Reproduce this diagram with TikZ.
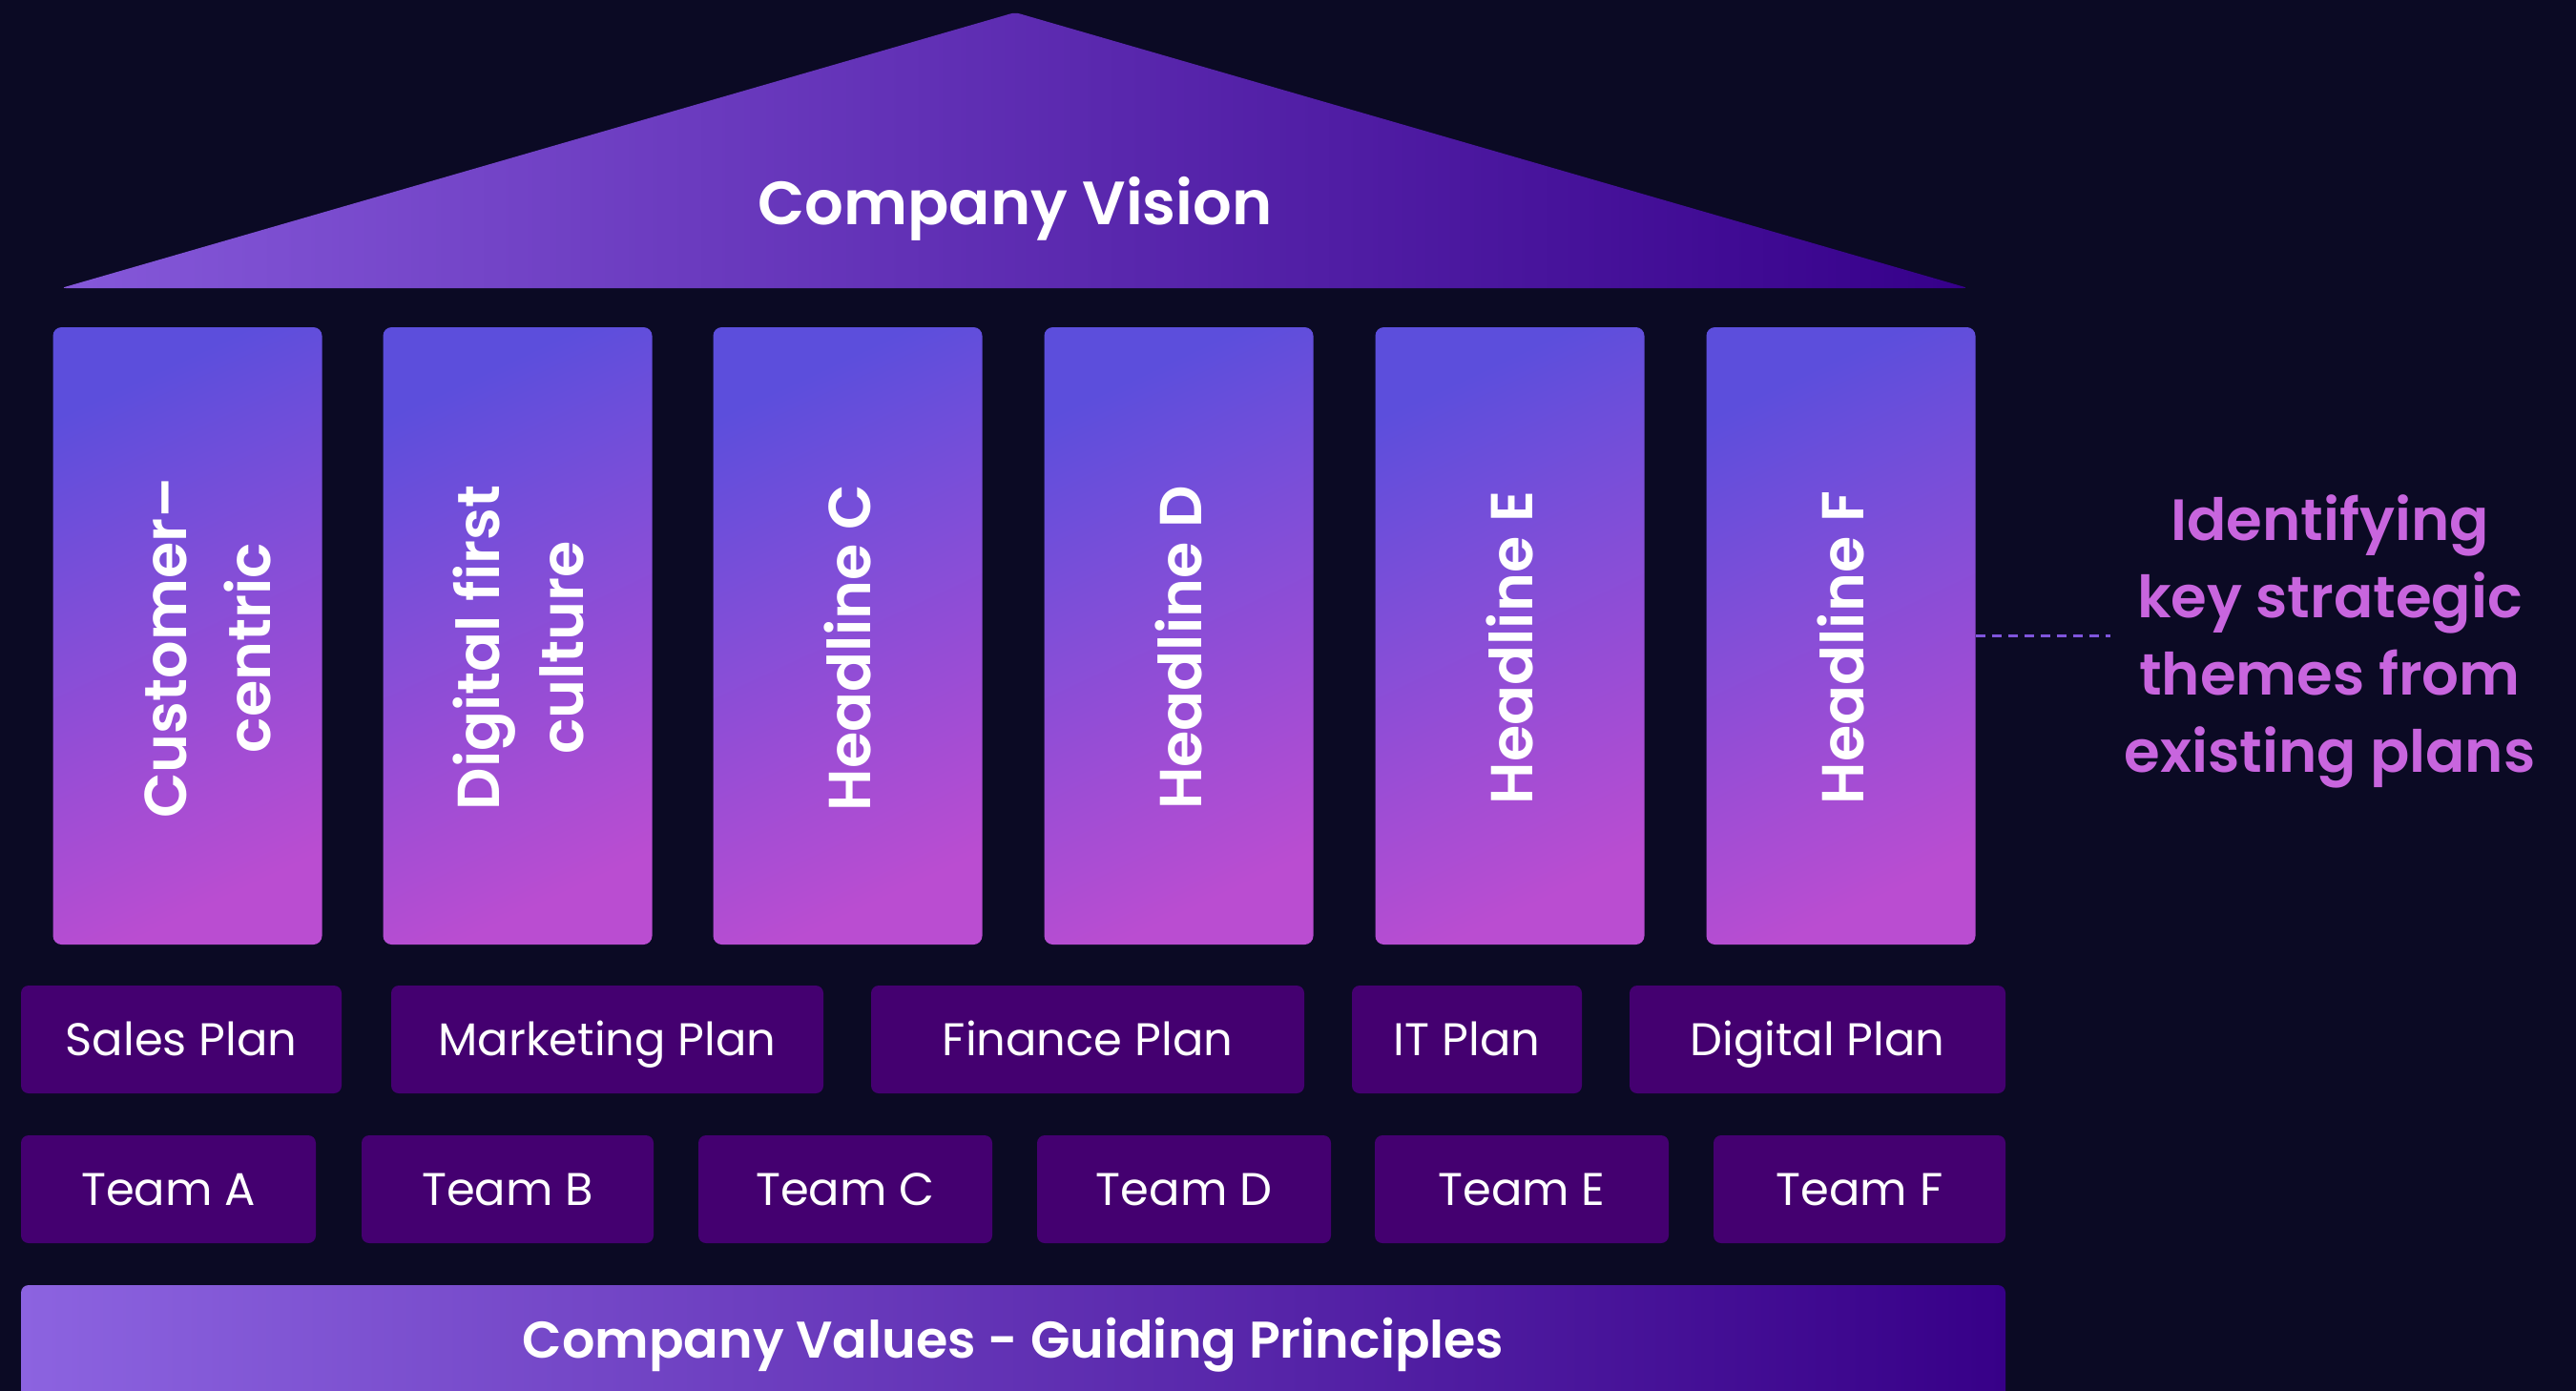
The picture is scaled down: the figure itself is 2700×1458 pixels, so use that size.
\documentclass[tikz,border=0pt]{standalone}
\usepackage{fontspec}
\setmainfont{Poppins}
\newfontfamily\semib{Poppins SemiBold}
\definecolor{bg}{HTML}{0B0A24}
\definecolor{planfill}{HTML}{440070}
\definecolor{pilTop}{HTML}{5C4EDC}
\definecolor{pilBot}{HTML}{BA4DD1}
\definecolor{triL}{HTML}{8558D9}
\definecolor{triR}{HTML}{36008A}
\definecolor{valL}{HTML}{8C63E0}
\definecolor{valR}{HTML}{370088}
\definecolor{notec}{HTML}{C865DE}
\definecolor{dashc}{HTML}{8055DD}
\begin{document}
\begin{tikzpicture}[x=1pt,y=-1pt,
  pillar/.style={rounded corners=9pt, minimum width=282pt, minimum height=647pt,
    inner sep=0pt, top color=pilTop, bottom color=pilBot, shading angle=25},
  pillartext/.style={rotate=90, text=white, align=center, inner sep=0pt,
    font=\fontsize{62}{88}\selectfont\semib},
  tile/.style={fill=planfill, rounded corners=8pt, minimum height=113pt,
    inner sep=0pt, text=white, text height=33pt, text depth=0pt,
    font=\fontsize{48}{56}\selectfont},
  conn/.style={dashc, line width=3.5pt, dash pattern=on 10pt off 7pt}
]
\useasboundingbox (0,0) rectangle (2700,1458);
\fill[bg] (0,0) rectangle (2700,1458);

\begin{scope}
\clip (0,0) rectangle (2700,1458);

% roof
\shade[left color=triL, right color=triR, rounded corners=5pt]
  (64,302) -- (1064,13) -- (2063,302) -- cycle;
\node[text=white, inner sep=0pt, text height=44pt, text depth=0pt,
  font=\fontsize{64}{70}\selectfont\semib] (vision) at (1064,213) {Company Vision};

% pillars
\node[pillar] (p1) at (196.5,666.5) {};
\node[pillar] (p2) at (542.5,666.5) {};
\node[pillar] (p3) at (888.5,666.5) {};
\node[pillar] (p4) at (1235.5,666.5) {};
\node[pillar] (p5) at (1582.5,666.5) {};
\node[pillar] (p6) at (1929.5,666.5) {};

\node[pillartext] (t1) at (218,679) {Customer–\\centric};
\node[pillartext] (t2) at (543,679) {Digital first\\culture};
\node[pillartext] (t3) at (888.5,679) {Headline C};
\node[pillartext] (t4) at (1235.5,679) {Headline D};
\node[pillartext] (t5) at (1582.5,679) {Headline E};
\node[pillartext] (t6) at (1929.5,679) {Headline F};

% plans
\node[tile, minimum width=336pt] (sales) at (190,1089.5) {Sales Plan};
\node[tile, minimum width=453pt] (mkt) at (636.5,1089.5) {Marketing Plan};
\node[tile, minimum width=454pt] (fin) at (1140,1089.5) {Finance Plan};
\node[tile, minimum width=241pt] (it) at (1537.5,1089.5) {IT Plan};
\node[tile, minimum width=394pt] (dig) at (1905,1089.5) {Digital Plan};

% teams
\node[tile, minimum width=309pt] (ta) at (176.5,1246.5) {Team A};
\node[tile, minimum width=306pt] (tb) at (532,1246.5) {Team B};
\node[tile, minimum width=308pt] (tc) at (886,1246.5) {Team C};
\node[tile, minimum width=308pt] (td) at (1241,1246.5) {Team D};
\node[tile, minimum width=308pt] (te) at (1595,1246.5) {Team E};
\node[tile, minimum width=306pt] (tf) at (1949,1246.5) {Team F};

% foundation
\shade[left color=valL, right color=valR, rounded corners=8pt]
  (22,1347) rectangle (2102,1490);
\node[text=white, inner sep=0pt, text height=37pt, text depth=0pt,
  font=\fontsize{54}{60}\selectfont\semib] (values) at (1062,1405)
  {Company Values - Guiding Principles};

% annotation
\node[text=notec, align=center, inner sep=14pt,
  font=\fontsize{61}{81}\selectfont\semib] (note) at (2442,672)
  {Identifying\\key strategic\\themes from\\existing plans};
\draw[conn] (p6.east) -- (note.west |- p6.east);
\end{scope}
\end{tikzpicture}
\end{document}
